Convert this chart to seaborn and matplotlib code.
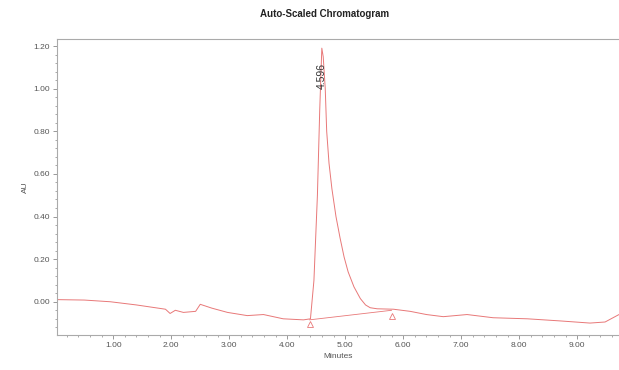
import numpy as np
import pandas as pd
import matplotlib
matplotlib.use('Agg')
import matplotlib.pyplot as plt
import seaborn as sns
from matplotlib.ticker import MultipleLocator, FormatStrFormatter

# chromatogram trace (minutes, AU)
minutes = [0.03, 0.50, 0.95, 1.40, 1.90, 1.98, 2.07, 2.21, 2.42, 2.50, 2.70,
           2.97, 3.31, 3.59, 3.93, 4.28, 4.40, 4.46, 4.52, 4.56, 4.596,
           4.62, 4.655, 4.68, 4.72, 4.77, 4.84, 4.91, 4.98, 5.05, 5.15,
           5.26, 5.35, 5.43, 5.55, 5.83, 6.12, 6.40, 6.69, 7.10, 7.55,
           8.14, 8.71, 9.22, 9.48, 9.72]
au = [0.010, 0.008, 0.000, -0.015, -0.035, -0.055, -0.040, -0.050, -0.045,
      -0.012, -0.030, -0.050, -0.065, -0.060, -0.080, -0.085, -0.080, 0.10,
      0.50, 0.90, 1.19, 1.15, 1.00, 0.80, 0.65, 0.53, 0.40, 0.30, 0.21,
      0.14, 0.07, 0.015, -0.015, -0.028, -0.033, -0.035, -0.045, -0.060,
      -0.070, -0.060, -0.075, -0.080, -0.090, -0.100, -0.095, -0.060]

# integration baseline and event marks
base_x = [4.38, 5.80]
base_y = [-0.085, -0.040]
event_x = [4.40, 5.81]
event_y = [-0.105, -0.065]

peak_rt = 4.596
peak_label = '4.596'

sns.set_style('ticks')
plt.rcParams['font.family'] = ['Liberation Sans', 'DejaVu Sans']

df = pd.DataFrame({'Minutes': minutes, 'AU': au})

fig = plt.figure(figsize=(6.19, 3.70), dpi=100)
ax = fig.add_axes([57 / 619, 35 / 370, 1 - 57 / 619, 296 / 370])

line_col = '#e87878'
sns.lineplot(data=df, x='Minutes', y='AU', ax=ax, color=line_col, lw=0.7)
ax.plot(base_x, base_y, color=line_col, lw=0.6)
ax.plot(event_x, event_y, ls='none', marker='^', ms=4, mfc='none',
        mec=line_col, mew=0.6)

ax.text(peak_rt, 1.06, peak_label, rotation=90, ha='center', va='center',
        fontsize=7.5, color='#333333')

ax.set_xlim(0.03, 9.72)
ax.set_ylim(-0.156, 1.233)
ax.xaxis.set_major_locator(MultipleLocator(1.0))
ax.xaxis.set_minor_locator(MultipleLocator(0.2))
ax.yaxis.set_major_locator(MultipleLocator(0.2))
ax.yaxis.set_minor_locator(MultipleLocator(0.04))
ax.xaxis.set_major_formatter(FormatStrFormatter('%.2f'))
ax.yaxis.set_major_formatter(FormatStrFormatter('%.2f'))
ax.tick_params(which='major', length=3, width=0.6, labelsize=6,
               colors='#888888', labelcolor='#555555', pad=2)
ax.tick_params(which='minor', length=1.5, width=0.5, colors='#888888')

for side in ['left', 'bottom', 'top']:
    ax.spines[side].set_color('#aaaaaa')
    ax.spines[side].set_linewidth(0.8)
ax.spines['right'].set_visible(False)

ax.set_xlabel('Minutes', fontsize=6, color='#555555', labelpad=3)
ax.set_ylabel('AU', fontsize=6, color='#555555', labelpad=3)

fig.text(325 / 619, 1 - 14 / 370, 'Auto-Scaled Chromatogram', ha='center',
         va='center', fontsize=7, fontweight='bold', color='#222222')

fig.savefig('out.png', dpi=100)
